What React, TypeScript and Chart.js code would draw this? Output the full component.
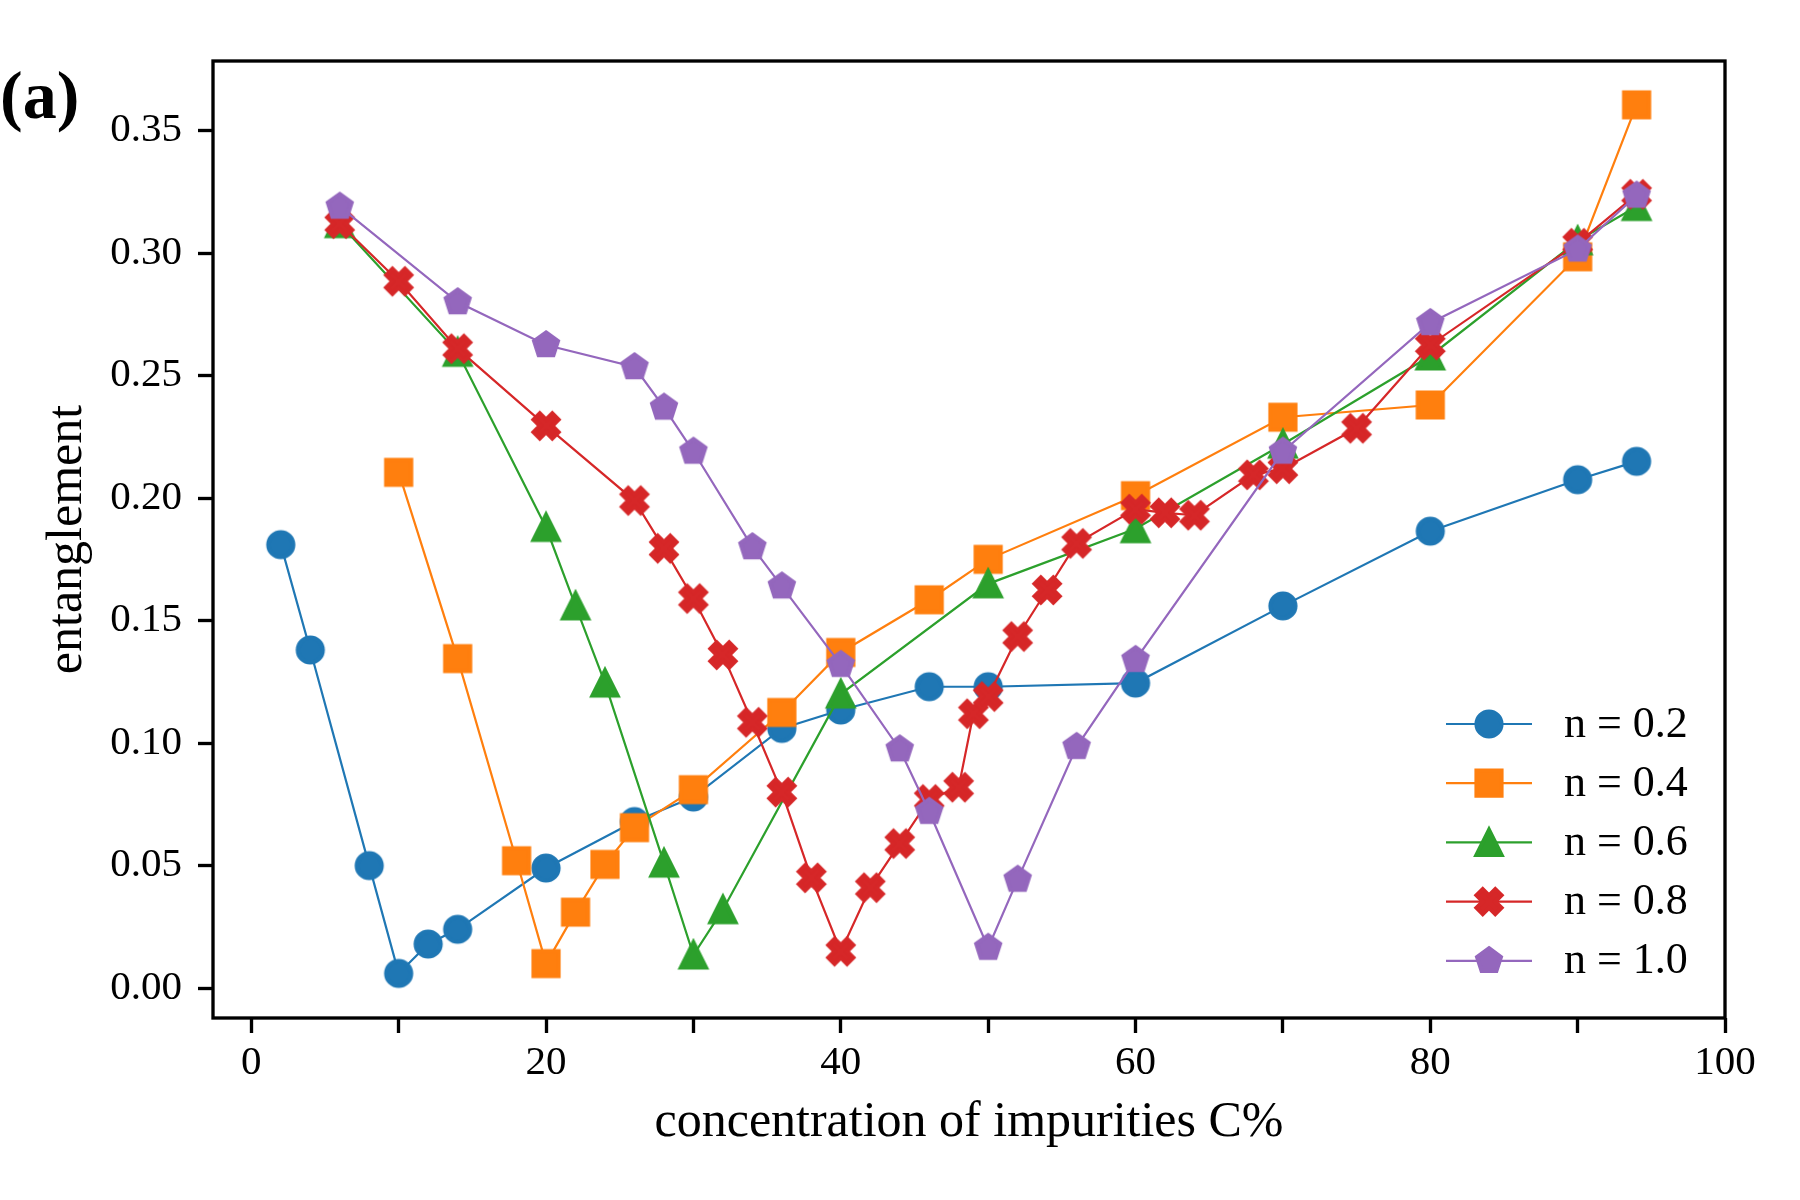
import React, { useEffect, useRef } from 'react';
import { Chart, registerables } from 'chart.js';

Chart.register(...registerables);

const FONT = '"Liberation Serif", "Times New Roman", Times, serif';

// ---- data ----
const seriesLabels = ['n = 0.2', 'n = 0.4', 'n = 0.6', 'n = 0.8', 'n = 1.0'];
const seriesColors = ['#1f77b4', '#ff7f0e', '#2ca02c', '#d62728', '#9467bd'];
const seriesMarkers = ['circle', 'square', 'triangle', 'xfilled', 'pentagon'];

const xN02 = [2, 4, 8, 10, 12, 14, 20, 26, 30, 36, 40, 46, 50, 60, 70, 80, 90, 94];
const yN02 = [0.181, 0.138, 0.050, 0.006, 0.018, 0.024, 0.049, 0.068, 0.078, 0.106, 0.1135, 0.123, 0.123, 0.1245, 0.156, 0.1865, 0.2075, 0.215];

const xN04 = [10, 14, 18, 20, 22, 24, 26, 30, 36, 40, 46, 50, 60, 70, 80, 90, 94];
const yN04 = [0.2105, 0.1345, 0.052, 0.010, 0.031, 0.0505, 0.0655, 0.081, 0.1125, 0.137, 0.1585, 0.175, 0.201, 0.233, 0.238, 0.2985, 0.3605];

const xN06 = [6, 14, 20, 22, 24, 28, 30, 32, 40, 50, 60, 70, 80, 90, 94];
const yN06 = [0.312, 0.2595, 0.188, 0.156, 0.1245, 0.051, 0.0135, 0.032, 0.120, 0.165, 0.1875, 0.222, 0.258, 0.305, 0.319];

const xN08 = [6, 10, 14, 20, 26, 28, 30, 32, 34, 36, 38, 40, 42, 44, 46, 48, 49, 50, 52, 54, 56, 60, 62, 64, 68, 70, 75, 80, 90, 94];
const yN08 = [0.312, 0.2885, 0.261, 0.2295, 0.199, 0.1795, 0.159, 0.136, 0.1085, 0.080, 0.045, 0.015, 0.041, 0.059, 0.077, 0.082, 0.112, 0.119, 0.1435, 0.1625, 0.1815, 0.1955, 0.194, 0.193, 0.2095, 0.212, 0.2285, 0.2625, 0.304, 0.324];

const xN10 = [6, 14, 20, 26, 28, 30, 34, 36, 40, 44, 46, 50, 52, 56, 60, 70, 80, 90, 94];
const yN10 = [0.319, 0.280, 0.2625, 0.2535, 0.237, 0.219, 0.180, 0.164, 0.132, 0.0975, 0.072, 0.0165, 0.0443, 0.0985, 0.134, 0.219, 0.2715, 0.3015, 0.3235];

const seriesX = [xN02, xN04, xN06, xN08, xN10];
const seriesY = [yN02, yN04, yN06, yN08, yN10];

const xTicks = [0, 10, 20, 30, 40, 50, 60, 70, 80, 90, 100];
const xTickLabels = ['0', '', '20', '', '40', '', '60', '', '80', '', '100'];
const yTicks = [0, 0.05, 0.1, 0.15, 0.2, 0.25, 0.3, 0.35];
const yTickLabels = ['0.00', '0.05', '0.10', '0.15', '0.20', '0.25', '0.30', '0.35'];

const xLabel = 'concentration of impurities C%';
const yLabel = 'entanglement';
const panelLabel = '(a)';

const X_MIN = -2.6;
const X_MAX = 100;
const Y_MIN = -0.0122;
const Y_MAX = 0.3784;

// ---- matplotlib-like markers ----
const MS = 25;
const MEW = 4.17;

function tracePath(ctx: CanvasRenderingContext2D, shape: string, m: number) {
  const s = m / 2;
  ctx.beginPath();
  if (shape === 'circle') {
    ctx.arc(0, 0, s, 0, Math.PI * 2);
  } else if (shape === 'square') {
    ctx.rect(-s, -s, 2 * s, 2 * s);
  } else if (shape === 'triangle') {
    ctx.moveTo(0, -s);
    ctx.lineTo(-s, s);
    ctx.lineTo(s, s);
    ctx.closePath();
  } else if (shape === 'xfilled') {
    const pts = [[-1, -2], [0, -1], [1, -2], [2, -1], [1, 0], [2, 1], [1, 2], [0, 1], [-1, 2], [-2, 1], [-1, 0], [-2, -1]];
    const k = m / 4;
    pts.forEach((p, i) => {
      if (i === 0) ctx.moveTo(p[0] * k, p[1] * k);
      else ctx.lineTo(p[0] * k, p[1] * k);
    });
    ctx.closePath();
  } else if (shape === 'pentagon') {
    for (let i = 0; i < 5; i++) {
      const a = -Math.PI / 2 + (i * 2 * Math.PI) / 5;
      const px = s * Math.cos(a);
      const py = s * Math.sin(a);
      if (i === 0) ctx.moveTo(px, py);
      else ctx.lineTo(px, py);
    }
    ctx.closePath();
  }
}

function drawMarker(ctx: CanvasRenderingContext2D, shape: string, color: string, x: number, y: number) {
  ctx.save();
  ctx.translate(x, y);
  tracePath(ctx, shape, MS);
  ctx.fillStyle = color;
  ctx.fill();
  ctx.lineWidth = MEW;
  ctx.strokeStyle = color;
  ctx.lineJoin = shape === 'circle' ? 'round' : 'miter';
  ctx.miterLimit = 10;
  ctx.stroke();
  ctx.restore();
}

function makeMarker(shape: string, color: string): HTMLCanvasElement {
  const size = 44;
  const c = document.createElement('canvas');
  c.width = size;
  c.height = size;
  const ctx = c.getContext('2d') as CanvasRenderingContext2D;
  drawMarker(ctx, shape, color, size / 2, size / 2);
  return c;
}

const framePlugin = {
  id: 'mplFrame',
  afterDraw(chart: any) {
    const { ctx, chartArea } = chart;
    const { left, right, top, bottom } = chartArea;
    ctx.save();
    // spines
    ctx.strokeStyle = '#000';
    ctx.lineWidth = 3.33;
    ctx.lineJoin = 'miter';
    ctx.strokeRect(left, top, right - left, bottom - top);

    // legend
    const lx0 = right - 279;
    const lx1 = right - 193;
    const lxm = right - 236;
    const tx = right - 161;
    const ly0 = bottom - 294;
    const dy = 59.2;
    ctx.font = `44px ${FONT}`;
    ctx.textBaseline = 'middle';
    ctx.textAlign = 'left';
    seriesLabels.forEach((lab, i) => {
      const y = ly0 + i * dy;
      ctx.strokeStyle = seriesColors[i];
      ctx.lineWidth = 2.2;
      ctx.beginPath();
      ctx.moveTo(lx0, y);
      ctx.lineTo(lx1, y);
      ctx.stroke();
      drawMarker(ctx, seriesMarkers[i], seriesColors[i], lxm, y);
      ctx.fillStyle = '#000';
      ctx.fillText(lab, tx, y + 1);
    });

    // panel label
    ctx.font = `bold 68px ${FONT}`;
    ctx.textBaseline = 'alphabetic';
    ctx.textAlign = 'left';
    ctx.fillStyle = '#000';
    ctx.fillText(panelLabel, 0, 118);
    ctx.restore();
  },
};

export default function App() {
  const canvasRef = useRef<HTMLCanvasElement | null>(null);

  useEffect(() => {
    const canvas = canvasRef.current;
    if (!canvas) return;

    const datasets = seriesLabels.map((label, i) => ({
      label,
      data: seriesX[i].map((x, j) => ({ x, y: seriesY[i][j] })),
      borderColor: seriesColors[i],
      backgroundColor: seriesColors[i],
      borderWidth: 2.2,
      pointStyle: makeMarker(seriesMarkers[i], seriesColors[i]) as any,
      pointRadius: 15,
      pointHoverRadius: 15,
      tension: 0,
      fill: false,
      showLine: true,
      order: seriesLabels.length - i,
    }));

    const chart = new Chart(canvas, {
      type: 'line',
      data: { datasets },
      options: {
        animation: false,
        responsive: false,
        devicePixelRatio: 1,
        events: [],
        layout: { padding: { top: 61, right: 75, bottom: 0, left: 0 } },
        plugins: {
          legend: { display: false },
          tooltip: { enabled: false },
          title: { display: false },
        },
        scales: {
          x: {
            type: 'linear',
            min: X_MIN,
            max: X_MAX,
            afterBuildTicks: (axis: any) => {
              axis.ticks = xTicks.map((v) => ({ value: v }));
            },
            afterFit: (scale: any) => {
              scale.height = 182;
            },
            border: { display: false },
            grid: {
              drawOnChartArea: false,
              drawTicks: true,
              tickLength: 15,
              tickWidth: 3.33,
              tickColor: '#000',
            },
            ticks: {
              autoSkip: false,
              maxRotation: 0,
              minRotation: 0,
              padding: 6,
              color: '#000',
              font: { family: FONT, size: 41 },
              callback: (_v: any, index: number) => xTickLabels[index],
            },
            title: {
              display: true,
              text: xLabel,
              color: '#000',
              font: { family: FONT, size: 50 },
              padding: { top: 0, bottom: 47 },
            },
          },
          y: {
            type: 'linear',
            min: Y_MIN,
            max: Y_MAX,
            afterBuildTicks: (axis: any) => {
              axis.ticks = yTicks.map((v) => ({ value: v }));
            },
            afterFit: (scale: any) => {
              scale.width = 213;
            },
            border: { display: false },
            grid: {
              drawOnChartArea: false,
              drawTicks: true,
              tickLength: 15,
              tickWidth: 3.33,
              tickColor: '#000',
            },
            ticks: {
              autoSkip: false,
              padding: 16,
              color: '#000',
              font: { family: FONT, size: 41 },
              callback: (_v: any, index: number) => yTickLabels[index],
            },
            title: {
              display: true,
              text: yLabel,
              color: '#000',
              font: { family: FONT, size: 50 },
              padding: { top: 38, bottom: 0 },
            },
          },
        },
      },
      plugins: [framePlugin],
    } as any);

    return () => {
      chart.destroy();
    };
  }, []);

  return (
    <div style={{ position: 'absolute', left: 0, top: 0, width: 1800, height: 1200, background: '#fff' }}>
      <canvas ref={canvasRef} width={1800} height={1200} style={{ width: 1800, height: 1200, display: 'block' }} />
    </div>
  );
}
